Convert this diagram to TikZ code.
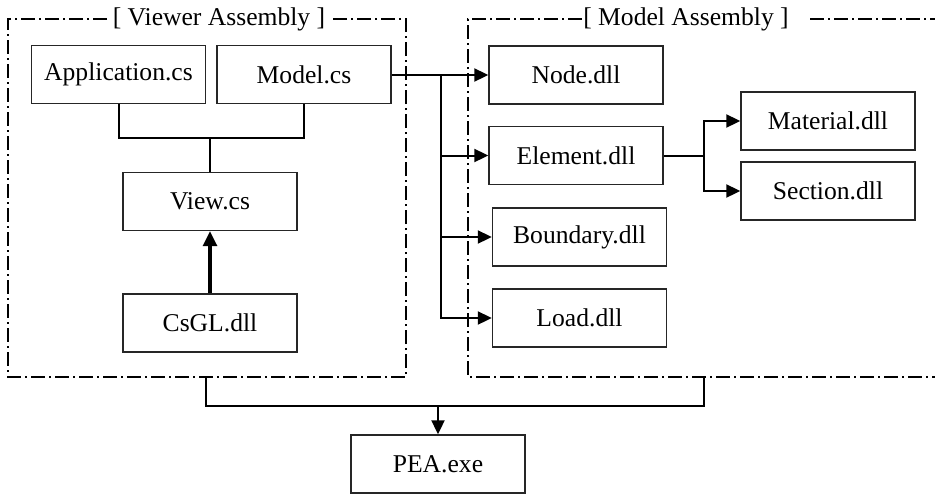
\documentclass[tikz,border=0pt]{standalone}
\usepackage{fontspec}
\setmainfont{Liberation Serif}
\usepackage{tikz}
\usetikzlibrary{arrows.meta,positioning,calc}

\tikzset{
  modbox/.style={draw=black!85, line width=0.7pt, minimum width=87pt, minimum height=29pt, inner sep=0pt, font=\fontsize{12.8}{15}\selectfont},
  frameline/.style={line width=0.8pt, dash pattern=on 7pt off 2pt on 1pt off 2pt},
  link/.style={line width=1pt},
  arr/.style={link, -{Triangle[length=7pt,width=6.5pt]}}
}

\begin{document}
\begin{tikzpicture}[x=0.5pt, y=-0.5pt]
\useasboundingbox (0,0) rectangle (935,493);

% Viewer assembly frame
\draw[frameline] (107,19) -- (8,19) -- (8,377) -- (406,377) -- (406,19) -- (333,19);
\node[font=\fontsize{12.8}{15}\selectfont] (vtitle) at (219,19) {[ Viewer Assembly ]};

% Model assembly frame
\draw[frameline] (582,19) -- (468,19) -- (468,377) -- (935,377);
\draw[frameline] (810,19) -- (935,19);
\node[font=\fontsize{12.8}{15}\selectfont] (mtitle) at (686,19) {[ Model Assembly ]};

% Viewer side
\node[modbox] (app) at (118.5,74.5) {Application.cs};
\node[modbox] (model) at (304,74.5) {Model.cs};
\node[modbox] (view) at (210,201.5) {View.cs};
\node[modbox] (csgl) at (210,323) {CsGL.dll};

% Model side
\node[modbox] (node) at (576,75) {Node.dll};
\node[modbox] (element) at (576,155.5) {Element.dll};
\node[modbox] (boundary) at (579.5,237) {Boundary.dll};
\node[modbox] (load) at (579.5,318) {Load.dll};
\node[modbox] (material) at (828,121) {Material.dll};
\node[modbox] (section) at (828,191) {Section.dll};

% Executable
\node[modbox] (pea) at (438,464) {PEA.exe};

% Viewer connectors
\coordinate (jv) at (210,138);
\draw[link] (app.south) |- (jv) -| (model.south);
\draw[link] (jv) -- (view.north);
\draw[link, line width=1.6pt, -{Triangle[length=7.5pt,width=7pt]}] (csgl.north) -- (view.south);

% Model.cs to the dlls
\coordinate (bus) at (441,75);
\draw[arr] (model.east |- node.west) -- (node.west);
\draw[arr] (bus) |- (load.west);
\draw[arr] (bus |- element.west) -- (element.west);
\draw[arr] (bus |- boundary.west) -- (boundary.west);

% Element split
\coordinate (es) at (704,155.5);
\draw[link] (element.east) -- (es);
\draw[arr] (es) |- (material.west);
\draw[arr] (es) |- (section.west);

% Both assemblies to the executable
\coordinate (vb) at (206,377);
\coordinate (mb) at (704,377);
\coordinate (pj) at (438,406);
\draw[link] (vb) |- (pj) -| (mb);
\draw[arr] (pj) -- (pea.north);
\end{tikzpicture}
\end{document}
